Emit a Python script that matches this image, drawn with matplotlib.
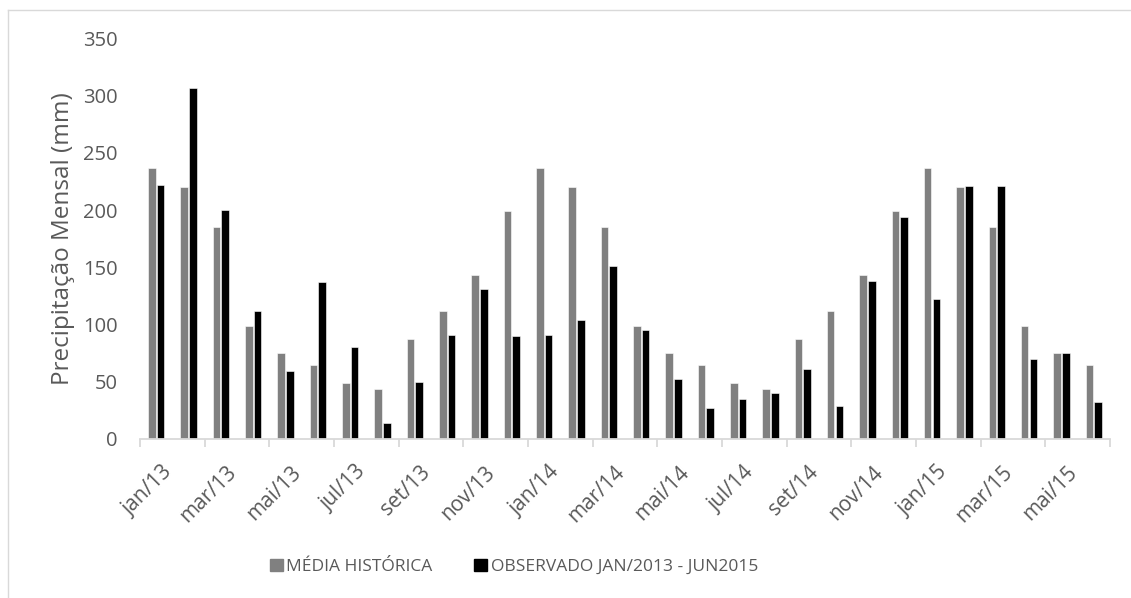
import numpy as np
import matplotlib.pyplot as plt
from matplotlib.lines import Line2D
from matplotlib.patches import Patch

# monthly rainfall, jan/2013 - jun/2015
months = ["jan", "fev", "mar", "abr", "mai", "jun", "jul", "ago", "set", "out", "nov", "dez"]
labels = [m + "/" + y for y in ["13", "14", "15"] for m in months][:30]

historica_mes = [237, 220, 185, 99, 75, 65, 49, 44, 87, 112, 143, 199]
media_historica = (historica_mes * 3)[:30]

observado = [222, 307, 200, 112, 59, 137, 80, 14, 50, 91, 131, 90,
             91, 104, 151, 95, 52, 27, 35, 40, 61, 29, 138, 194,
             122, 221, 221, 70, 75, 32]

grey = "#808080"
text_col = "#595959"
axis_col = "#d9d9d9"

plt.rcParams['font.family'] = ['Open Sans', 'DejaVu Sans']

fig = plt.figure(figsize=(11.31, 5.98), dpi=100)
ax = fig.add_axes([0.1238, 0.2659, 0.8576, 0.6701])

x = np.arange(len(labels))
w = 0.23
ax.bar(x - 0.135, media_historica, w, color=grey, edgecolor="white", linewidth=0.4,
       label="MÉDIA HISTÓRICA")
ax.bar(x + 0.135, observado, w, color="black", edgecolor="white", linewidth=0.4,
       label="OBSERVADO JAN/2013 - JUN2015")

ax.set_xlim(-0.5, len(labels) - 0.5)
ax.set_ylim(0, 350)
ax.set_yticks(range(0, 351, 50))
ax.tick_params(axis="y", length=0, labelsize=14.5, labelcolor=text_col, pad=16)

# ticks on category edges every 2 months, labels on the odd months
ax.set_xticks(np.arange(-0.5, len(labels), 2))
ax.set_xticklabels([])
ax.tick_params(axis="x", length=6, width=1.3, color=axis_col)
for i in range(0, len(labels), 2):
    ax.text(i + 0.15, -20, labels[i], rotation=45, ha="right", va="top",
            rotation_mode="anchor", fontsize=15, color=text_col)

for s in ["top", "right", "left"]:
    ax.spines[s].set_visible(False)
ax.spines["bottom"].set_color(axis_col)
ax.spines["bottom"].set_linewidth(1.3)

ax.set_ylabel("Precipitação Mensal (mm)", fontsize=17.5, color=text_col, labelpad=6)

handles = [Patch(color=grey), Patch(color="black")]
fig.legend(handles, ["MÉDIA HISTÓRICA", "OBSERVADO JAN/2013 - JUN2015"],
           loc="center", bbox_to_anchor=(0.4545, 0.052), ncol=2, frameon=False,
           fontsize=12.5, labelcolor=text_col, handlelength=0.75, handleheight=0.75,
           handletextpad=0.2, columnspacing=2.4)

# chart area border (top and left visible)
fig.add_artist(Line2D([8 / 1131, 1], [1 - 10 / 598, 1 - 10 / 598],
                      transform=fig.transFigure, color=axis_col, linewidth=1))
fig.add_artist(Line2D([8 / 1131, 8 / 1131], [0, 1 - 10 / 598],
                      transform=fig.transFigure, color=axis_col, linewidth=1))

fig.savefig("out.png", dpi=100)
